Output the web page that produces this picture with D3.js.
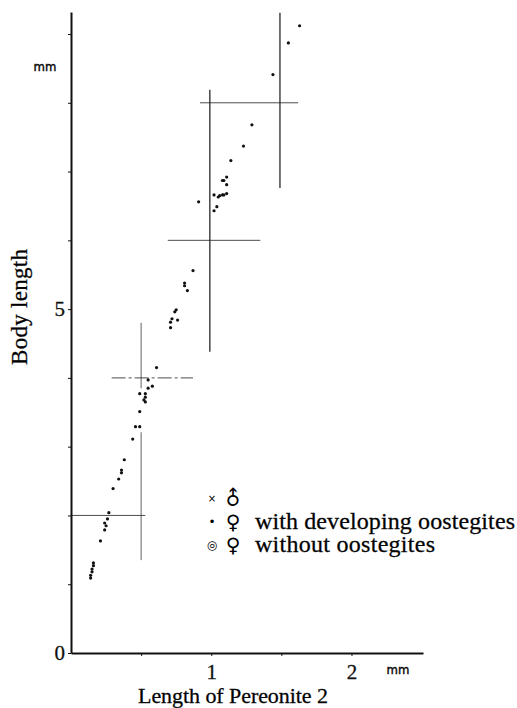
<!DOCTYPE html>
<html>
<head>
<meta charset="utf-8">
<script src="https://cdn.jsdelivr.net/npm/d3@7"></script>
<style>
  body { margin: 0; background: #fff; }
</style>
</head>
<body>
<div id="chart"></div>
<script>
// Body length vs. length of pereonite 2

// measured points (mm)
var pereonite = [1.63, 1.55, 1.44, 1.29, 1.23, 1.14, 1.08, 1.09, 1.11, 1.11, 1.02, 1.05, 1.06, 1.08, 1.09, 1.11,
  0.91, 1.04, 1.02, 0.87, 0.81, 0.81, 0.83, 0.75, 0.74, 0.72, 0.76, 0.71, 0.71, 0.61, 0.55, 0.58, 0.55, 0.49,
  0.53, 0.53, 0.52, 0.53, 0.49, 0.46, 0.49, 0.44, 0.38, 0.36, 0.36, 0.34, 0.30, 0.27, 0.26, 0.24, 0.25, 0.24,
  0.21, 0.16, 0.16, 0.15, 0.15, 0.14, 0.14];
var bodyLength = [9.12, 8.87, 8.41, 7.68, 7.37, 7.16, 6.87, 6.87, 6.92, 6.81, 6.66, 6.63, 6.65, 6.66, 6.66, 6.68,
  6.56, 6.49, 6.43, 5.56, 5.38, 5.34, 5.27, 4.99, 4.96, 4.86, 4.84, 4.81, 4.73, 4.15, 3.97, 3.88, 3.85, 3.77,
  3.77, 3.72, 3.68, 3.65, 3.51, 3.29, 3.29, 3.11, 2.81, 2.66, 2.62, 2.53, 2.39, 2.04, 1.95, 1.89, 1.85, 1.79,
  1.63, 1.31, 1.27, 1.22, 1.18, 1.13, 1.09];

// range crosses
var crossX = [0.5, 0.5, 0.99, 1.49];
var crossYLow = [1.35, 3.85, 4.38, 6.76];
var crossYHigh = [3.21, 4.8, 8.19, 9.31];
var crossY = [2, 4, 6, 8];
var crossXLow = [0, 0.29, 0.69, 0.92];
var crossXHigh = [0.53, 0.87, 1.35, 1.62];

var xTicks = [0.5, 1, 1.5, 2];
var xLabels = [1, 2];
var yTicks = [0, 1, 2, 3, 4, 5, 6, 7, 8, 9];
var yLabels = [0, 5];

var legendMarks = ["×", "•", "◎"];
var legendSex = ["♂", "♀", "♀"];
var legendText = ["", "with developing oostegites", "without oostegites"];

(function() {
  var width = 517, height = 708;
  var serif = "'Liberation Serif', 'Times New Roman', serif";
  var cond = "'DejaVu Sans Condensed', 'DejaVu Sans', sans-serif";

  var svg = d3.select("#chart")
    .append("svg")
    .attr("width", width)
    .attr("height", height);

  var xPositionScale = d3.scaleLinear().domain([0, 2.51]).range([71, 423]);
  var yPositionScale = d3.scaleLinear().domain([0, 9.32]).range([653, 12]);

  // crosses
  var crosses = crossX.map(function(x, i) {
    return { x: x, y0: crossYLow[i], y1: crossYHigh[i], y: crossY[i], x0: crossXLow[i], x1: crossXHigh[i] };
  });

  svg.selectAll(".vbar")
    .data(crosses)
    .enter().append("line")
    .attr("class", "vbar")
    .attr("x1", function(d) { return xPositionScale(d.x); })
    .attr("x2", function(d) { return xPositionScale(d.x); })
    .attr("y1", function(d) { return yPositionScale(d.y0); })
    .attr("y2", function(d) { return yPositionScale(d.y1); })
    .attr("stroke", "#222")
    .attr("stroke-width", function(d) { return d.x > 0.9 ? 1.4 : 1; })
    .attr("opacity", function(d) { return d.x > 0.9 ? 0.9 : 0.7; });

  svg.selectAll(".hbar")
    .data(crosses)
    .enter().append("line")
    .attr("class", "hbar")
    .attr("x1", function(d) { return xPositionScale(d.x0); })
    .attr("x2", function(d) { return xPositionScale(d.x1); })
    .attr("y1", function(d) { return yPositionScale(d.y); })
    .attr("y2", function(d) { return yPositionScale(d.y); })
    .attr("stroke", "#222")
    .attr("stroke-width", 1)
    .attr("stroke-dasharray", function(d) { return d.y === 4 ? "14,3,3,3" : null; })
    .attr("opacity", 0.8);

  // points
  var points = pereonite.map(function(x, i) { return { x: x, y: bodyLength[i] }; });
  svg.selectAll(".dot")
    .data(points)
    .enter().append("circle")
    .attr("class", "dot")
    .attr("r", 1.6)
    .attr("cx", function(d) { return xPositionScale(d.x); })
    .attr("cy", function(d) { return yPositionScale(d.y); })
    .attr("fill", "#111");

  // axes
  var xAxis = d3.axisBottom(xPositionScale)
    .tickValues(xTicks)
    .tickSize(3)
    .tickSizeOuter(0)
    .tickFormat(function(d) { return xLabels.indexOf(d) >= 0 ? d : ""; });
  var xg = svg.append("g")
    .attr("class", "axis x-axis")
    .attr("transform", "translate(0," + yPositionScale(0) + ")")
    .call(xAxis)
    .attr("font-family", serif)
    .attr("font-size", 21);
  xg.select(".domain").attr("stroke", "#111").attr("stroke-width", 2);
  xg.selectAll(".tick line").attr("stroke", "#111");
  xg.selectAll(".tick text")
    .attr("y", 11)
    .attr("fill", "#111")
    .attr("stroke", "#111")
    .attr("stroke-width", 0.3);

  var yAxis = d3.axisLeft(yPositionScale)
    .tickValues(yTicks)
    .tickSize(3)
    .tickSizeOuter(0)
    .tickFormat(function(d) { return yLabels.indexOf(d) >= 0 ? d : ""; });
  var yg = svg.append("g")
    .attr("class", "axis y-axis")
    .attr("transform", "translate(" + xPositionScale(0) + ",0)")
    .call(yAxis)
    .attr("font-family", serif)
    .attr("font-size", 21);
  yg.select(".domain").attr("stroke", "#111").attr("stroke-width", 2);
  yg.selectAll(".tick line").attr("stroke", "#111");
  yg.selectAll(".tick text")
    .attr("x", -6)
    .attr("fill", "#111")
    .attr("stroke", "#111")
    .attr("stroke-width", 0.3);

  // units
  svg.selectAll(".unit")
    .data([[45, 71], [398, 674]])
    .enter().append("text")
    .attr("class", "unit")
    .attr("x", function(d) { return d[0]; })
    .attr("y", function(d) { return d[1]; })
    .attr("text-anchor", "middle")
    .attr("stroke", "#111")
    .attr("stroke-width", 0.4)
    .style("font-family", cond)
    .style("font-size", "13px")
    .text("mm");

  // titles
  svg.append("text")
    .attr("transform", "translate(27,307) rotate(-90)")
    .attr("text-anchor", "middle")
    .attr("stroke", "#111")
    .attr("stroke-width", 0.3)
    .style("font-family", serif)
    .style("font-size", "23px")
    .attr("textLength", 116)
    .attr("lengthAdjust", "spacing")
    .text("Body length");
  svg.append("text")
    .attr("x", 138)
    .attr("y", 703)
    .attr("stroke", "#111")
    .attr("stroke-width", 0.3)
    .style("font-family", serif)
    .style("font-size", "22px")
    .attr("textLength", 190)
    .attr("lengthAdjust", "spacing")
    .text("Length of Pereonite 2");

  // legend
  var legend = svg.selectAll(".legend")
    .data(legendMarks)
    .enter().append("g")
    .attr("class", "legend")
    .attr("transform", function(d, i) { return "translate(212," + (498 + i * 23.5) + ")"; });

  legend.append("text")
    .attr("text-anchor", "middle")
    .attr("dy", "0.35em")
    .style("font-family", "'DejaVu Sans', sans-serif")
    .style("font-size", function(d, i) { return i === 0 ? "10px" : "12px"; })
    .text(function(d) { return d; });

  legend.append("text")
    .attr("text-anchor", "middle")
    .attr("transform", function(d, i) { return i === 0 ? "translate(21,0) rotate(-45)" : "translate(21,0)"; })
    .attr("dy", "0.35em")
    .style("font-family", "'DejaVu Sans', sans-serif")
    .style("font-size", "20px")
    .text(function(d, i) { return legendSex[i]; });

  legend.append("text")
    .attr("x", 43)
    .attr("y", 7)
    .attr("stroke", "#111")
    .attr("stroke-width", 0.3)
    .style("font-family", serif)
    .style("font-size", "24px")
    .attr("textLength", function(d, i) { return legendText[i].length * 10; })
    .attr("lengthAdjust", "spacing")
    .text(function(d, i) { return legendText[i]; });
})();
</script>
</body>
</html>
